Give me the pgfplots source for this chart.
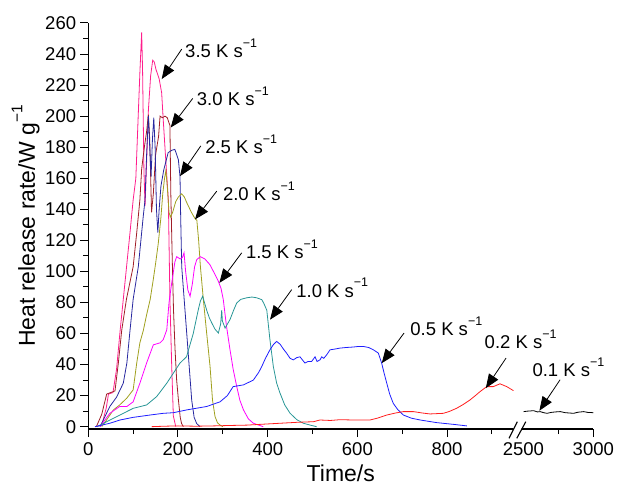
\documentclass[border=0pt]{standalone}
\usepackage{fontspec}
\setmainfont{Liberation Sans}
\usepackage{pgfplots}
\pgfplotsset{compat=1.18}
\usetikzlibrary{arrows.meta}
\definecolor{c35}{RGB}{255,30,140}
\definecolor{c30}{RGB}{160,30,40}
\definecolor{c25}{RGB}{40,40,160}
\definecolor{c20}{RGB}{160,160,30}
\definecolor{c15}{RGB}{255,0,255}
\definecolor{c10}{RGB}{40,150,150}
\definecolor{c05}{RGB}{30,30,255}
\definecolor{c02}{RGB}{255,30,30}
\newcommand\sups[1]{\raisebox{0.55em}{\fontsize{12.5}{12.5}\selectfont #1}}
\newcommand\supl[1]{\raisebox{0.55em}{\fontsize{15.5}{15.5}\selectfont #1}}
\begin{document}
\begin{tikzpicture}
\begin{axis}[
  scale only axis, width=505pt, height=406pt,
  xmin=0, xmax=1126, ymin=-1.5, ymax=260,
  axis x line*=bottom, axis y line*=left,
  axis line style={line width=1.1pt},
  xtick={0,200,400,600,800,1126}, xticklabels={0,200,400,600,800,3000},
  extra x ticks={970}, extra x tick labels={2500},
  extra x tick style={major tick length=0pt, xticklabel style={yshift=-8pt}},
  minor xtick={100,300,500,700,900,1048},
  ytick={0,20,...,260}, minor ytick={10,30,...,250},
  tick align=outside, major tick length=8pt, minor tick length=5pt,
  every tick/.style={line width=1pt, black},
  tick label style={font=\fontsize{18.5}{18.5}\selectfont},
  xticklabel style={inner sep=5.5pt},
  yticklabel style={inner sep=4pt},
  /pgf/number format/assume math mode=true,
  xlabel={Time/s}, ylabel={Heat release rate/W g\supl{−1}},
  label style={font=\fontsize{23}{23}\selectfont},
  xlabel style={yshift=8pt},
  ylabel style={yshift=-2pt},
  clip=false,
  every axis plot/.append style={line width=0.8pt},
]
% 3.5 K/s
\addplot[c35] coordinates {(15,0)(30,1)(40,12)(45,21)(55,22)(63,37)(71,62)(78,82)(86,105)(93,125)(100,146)(106,160)(111,198)(115,228)(119,254)(121,230)(124,166)(126.5,142)(130,170)(134,204)(139,226)(143.6,236)(147,235)(151,230)(158,224)(163.6,215)(167,198)(172,175)(178.5,146)(182,82)(186,39)(189.6,7)(195,0)};
% 3.0 K/s
\addplot[c30] coordinates {(18,0)(30,8)(41,21)(50,22)(59.5,23)(67,41)(74.5,62)(85,82)(100,103)(108,125)(115,146)(119,166)(125,180)(130,190)(134,201)(137,185)(141,138)(145,150)(150,175)(156.7,187)(160,200)(165,199)(171,200)(176,199)(182,194)(184,150)(187,110)(190,75)(193.4,50)(197,30)(201,17)(205,6)(208,2)(212,0)};
% 2.5 K/s
\addplot[c25] coordinates {(26,0)(33,4)(48,13)(63,19)(78,28)(86,41)(93,62)(100,82)(111.5,103)(122.7,136)(126.5,146)(130,175)(134,200)(137,180)(140,161)(143,185)(146,199)(149,180)(152,140)(155,125)(158,140)(162,155)(168,165)(178,176.5)(186,178)(193,178.6)(200.8,172)(204.5,161)(206,135)(208.3,103)(219.5,60)(230.6,17)(236,6)(241.7,2)(249,0)};
% 2.0 K/s
\addplot[c20] coordinates {(30,0)(40,4)(56,10.8)(70,14)(85.6,18.3)(100,23.7)(108,41)(115,54)(122.7,62)(130,72)(138,82)(145,95)(150,105)(156,118)(162,135)(166,150)(170,160)(173,165)(176,155)(180,138)(183,135)(188,138)(195,145)(201,148)(208,150)(214,148)(220,144)(230,138)(238,134)(242,133)(246,120)(250,103)(256.5,82)(264,60)(271.4,39)(277,17)(282.6,6.5)(288,2.5)(294,1)(300,0)};
% 1.5 K/s
\addplot[c15] coordinates {(26,0)(48,8.6)(70,13)(86,13)(100,16)(115,28)(130,41)(145,52.7)(160,54)(167,56)(175,62.4)(180,80)(186,92.6)(193,106)(197,109.5)(205,108)(210,109)(213.5,112)(217,100)(222,88)(227,84)(232,92)(237,103)(241.8,107.6)(250,109.5)(260,108)(271,104.4)(282.6,98)(290,93.6)(296,89)(301,81.8)(308,65)(316,49.5)(323,37)(331,25.8)(338,17)(346,10.8)(357,5)(368,2.2)(390,0)};
% 1.0 K/s
\addplot[c10] coordinates {(20,0)(26,1)(48.5,4.3)(78,8.6)(100,11.8)(130,14)(152.5,19.4)(175,28)(204.5,41)(219,45)(234,60)(245,75)(250,81)(255,84)(259,80)(264,75)(270,70)(275,67)(282,63)(290,60.3)(295,66)(297.5,75)(299,68)(305,63.5)(310,66)(316,69)(324,75)(331,79.7)(340,82)(353,83)(365,83.5)(375.5,83)(387,81.8)(392,79)(398,75)(405,56)(412.6,38.7)(420,28)(427.5,21.6)(438,14)(450,8.6)(465,4.5)(479.5,2.2)(495,1)(509,0)};
% 0.5 K/s
\addplot[c05] coordinates {(15,0)(30,1)(48,2.2)(70.7,4.3)(100,6)(137.6,7.5)(167,8.6)(189.6,9)(219.5,10.8)(264,13)(293.7,16)(310,20)(323,25.8)(345.7,26.9)(368,30)(380,35)(386.7,38.7)(395,44)(405,49.5)(413,53)(420,54.9)(428,53)(435,50)(442,47.4)(450,44)(457,43)(465,44.5)(472,45)(483,41)(490,42)(498,42)(505.6,45)(510,42)(516.5,43)(520.5,45)(525,44)(531.6,46.3)(539,49.5)(550,50)(561,50.6)(575,51)(591,51.3)(603,51.7)(613,51.7)(625,51)(635.6,49.5)(646.7,47.4)(654,41)(660,34)(665.5,28)(672,21)(680,15)(690,11)(702.5,7.5)(720,5.5)(740,4.3)(777,2.6)(814,1.5)(844,0.5)};
% 0.2 K/s
\addplot[c02] coordinates {(141,0)(170,0.3)(200,0.5)(240,0.3)(279,0.5)(320,0.8)(353,1)(390,1.6)(427.5,2.2)(465,2.8)(502,3.2)(516.5,4.3)(540,4)(561,4.5)(591,4.3)(628,4.3)(645,5.5)(665.5,7.5)(685,8.8)(702.5,9.7)(725,9.7)(745,8.8)(762,8.2)(791.7,8.6)(805,9.8)(821.6,11.9)(836,14.3)(851,17.2)(863,20)(873.5,22.6)(888.5,25.8)(903,25.8)(918,27.6)(933,25.8)(948,23.2)};
% 0.1 K/s (times in s, second segment)
\addplot[black] table[x expr={970+(\thisrow{t}-2500)*0.3122}, y=v] {
t v
2502 9.7
2530 10
2574 10.3
2600 9.5
2621 9.7
2645 9
2669 8.6
2700 9.2
2730 9.5
2764 9.7
2800 9
2830 8.8
2859 8.6
2890 9.3
2931 9.7
2960 9.2
3000 9
};
% axis break
\fill[white] (axis cs:946,-4) -- (axis cs:952,4) -- (axis cs:970,4) -- (axis cs:964,-4) -- cycle;
\draw[line width=1.1pt] (axis cs:938.2,-7.5) -- (axis cs:956.7,3.2);
\draw[line width=1.1pt] (axis cs:955.4,-7.5) -- (axis cs:975.5,3.2);
% annotations
\tikzset{ann/.style={anchor=base west, inner sep=0pt, font=\fontsize{18.5}{18.5}\selectfont},
  arr/.style={line width=0.8pt, -{Triangle[length=14pt,width=11pt]}}}
\node[ann] at (axis cs:215.7,237.8) {3.5 K s\sups{−1}};
\draw[arr] (axis cs:208.3,243.2) -- (axis cs:163.7,223.9);
\node[ann] at (axis cs:241.8,207.0) {3.0 K s\sups{−1}};
\draw[arr] (axis cs:232.8,211.4) -- (axis cs:183.8,192.7);
\node[ann] at (axis cs:260.4,175.8) {2.5 K s\sups{−1}};
\draw[arr] (axis cs:250.7,180.8) -- (axis cs:204.5,161.4);
\node[ann] at (axis cs:299.9,145.8) {2.0 K s\sups{−1}};
\draw[arr] (axis cs:286.4,151.7) -- (axis cs:238,133.5);
\node[ann] at (axis cs:351.2,108.2) {1.5 K s\sups{−1}};
\draw[arr] (axis cs:342.1,112) -- (axis cs:292.2,92.6);
\node[ann] at (axis cs:463.4,83.5) {1.0 K s\sups{−1}};
\draw[arr] (axis cs:453.6,88.3) -- (axis cs:405.2,68.9);
\node[ann] at (axis cs:717.8,58.8) {0.5 K s\sups{−1}};
\draw[arr] (axis cs:704,60.3) -- (axis cs:654.3,40.9);
\node[ann] at (axis cs:883.5,50.2) {0.2 K s\sups{−1}};
\draw[arr] (axis cs:931.5,44.2) -- (axis cs:886.3,24.8);
\node[ann] at (axis cs:990,32.0) {0.1 K s\sups{−1}};
\draw[arr] (axis cs:1051.9,30.2) -- (axis cs:1005.8,10.3);
\end{axis}
\pgfresetboundingbox
\useasboundingbox (-88.3pt,-59pt) rectangle (535.7pt,429pt);
\end{tikzpicture}
\end{document}
